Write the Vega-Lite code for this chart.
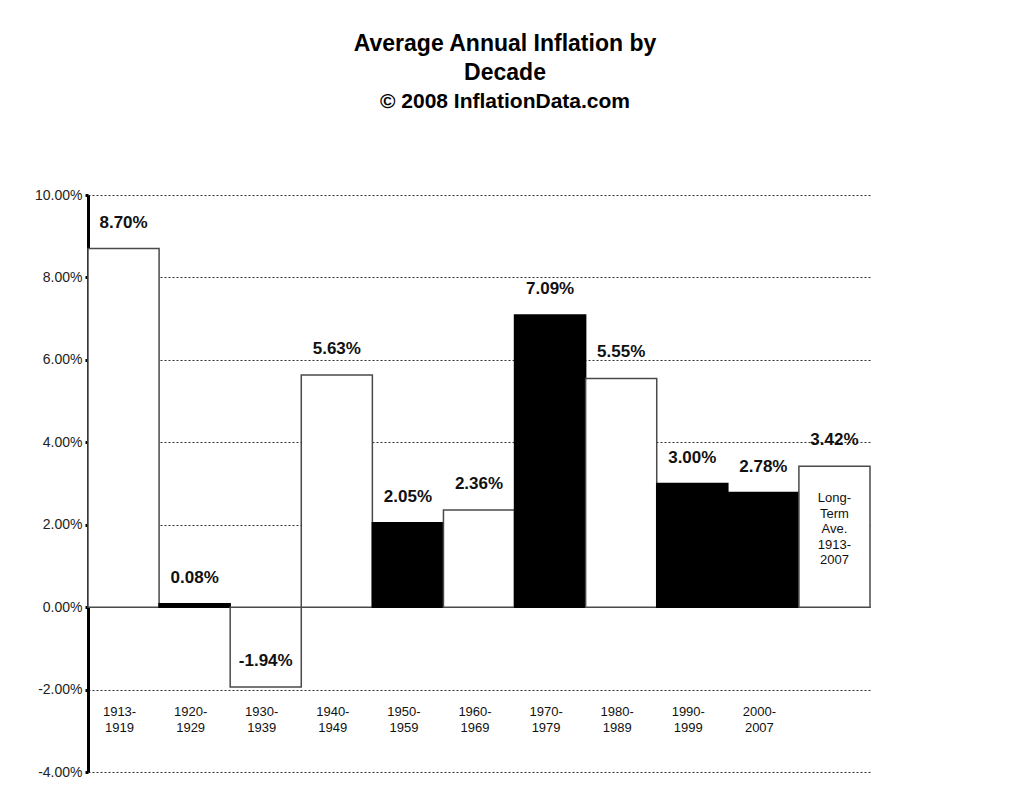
{
  "$schema": "https://vega.github.io/schema/vega-lite/v6.json",
  "width": 782,
  "height": 577,
  "autosize": {"type": "none"},
  "padding": {"left": 88, "top": 195, "right": 149, "bottom": 34},
  "background": "white",
  "title": {
    "text": ["Average Annual Inflation by", "Decade"],
    "subtitle": "© 2008 InflationData.com",
    "anchor": "middle",
    "frame": "group",
    "dx": 26,
    "offset": 76,
    "font": "Liberation Sans",
    "fontSize": 23,
    "fontWeight": "bold",
    "lineHeight": 29,
    "color": "#000000",
    "subtitleFont": "Liberation Sans",
    "subtitleFontSize": 21,
    "subtitleFontWeight": "bold",
    "subtitleColor": "#000000",
    "subtitlePadding": 6
  },
  "data": {
    "values": [
      {"decade": "1913-1919", "value": 0.0870},
      {"decade": "1920-1929", "value": 0.0008},
      {"decade": "1930-1939", "value": -0.0194},
      {"decade": "1940-1949", "value": 0.0563},
      {"decade": "1950-1959", "value": 0.0205},
      {"decade": "1960-1969", "value": 0.0236},
      {"decade": "1970-1979", "value": 0.0709},
      {"decade": "1980-1989", "value": 0.0555},
      {"decade": "1990-1999", "value": 0.0300},
      {"decade": "2000-2007", "value": 0.0278},
      {"decade": "Long-Term Ave. 1913-2007", "value": 0.0342, "note": "Long-\nTerm\nAve.\n1913-\n2007"}
    ]
  },
  "encoding": {
    "x": {
      "field": "decade",
      "type": "nominal",
      "sort": null,
      "scale": {"paddingInner": 0, "paddingOuter": 0},
      "axis": {
        "orient": "bottom",
        "offset": -67,
        "title": null,
        "domain": false,
        "ticks": false,
        "grid": false,
        "labelAngle": 0,
        "labelPadding": 0,
        "labelBaseline": "top",
        "labelAlign": "center",
        "labelOffset": -4,
        "labelFont": "Liberation Sans",
        "labelFontSize": 13,
        "labelLineHeight": 16,
        "labelColor": "#111111",
        "labelExpr": "indexof(datum.value, 'Long') >= 0 ? '' : [slice(datum.value, 0, 5), slice(datum.value, 5)]"
      }
    }
  },
  "layer": [
    {
      "mark": {"type": "bar", "strokeWidth": 1.5},
      "encoding": {
        "y": {
          "field": "value",
          "type": "quantitative",
          "scale": {"domain": [-0.04, 0.10], "nice": false, "zero": true},
          "axis": {
            "title": null,
            "values": [-0.04, -0.02, 0, 0.02, 0.04, 0.06, 0.08, 0.10],
            "format": ".2%",
            "domainColor": "#000000",
            "domainWidth": 3,
            "tickColor": "#000000",
            "tickSize": 3,
            "tickWidth": 3,
            "labelPadding": 3,
            "labelFont": "Liberation Sans",
            "labelFontSize": 14,
            "labelColor": "#222222",
            "grid": true,
            "gridColor": "#333333",
            "gridDash": [2, 2],
            "gridWidth": 1
          }
        },
        "fill": {
          "condition": {
            "test": "indexof(['1920-1929','1950-1959','1970-1979','1990-1999','2000-2007'], datum.decade) >= 0",
            "value": "#000000"
          },
          "value": "#ffffff"
        },
        "stroke": {
          "condition": {
            "test": "indexof(['1920-1929','1950-1959','1970-1979','1990-1999','2000-2007'], datum.decade) >= 0",
            "value": "#000000"
          },
          "value": "#4a4a4a"
        }
      }
    },
    {
      "mark": {"type": "rule", "color": "#000000", "strokeWidth": 2},
      "encoding": {"y": {"datum": 0, "type": "quantitative"}}
    },
    {
      "mark": {
        "type": "text",
        "font": "Liberation Sans",
        "fontSize": 17,
        "fontWeight": "bold",
        "color": "#111111",
        "baseline": "middle",
        "dy": -26
      },
      "encoding": {
        "y": {"field": "value", "type": "quantitative"},
        "text": {"field": "value", "type": "quantitative", "format": ".2%"}
      }
    },
    {
      "transform": [{"filter": "datum.note != null"}],
      "mark": {
        "type": "text",
        "font": "Liberation Sans",
        "fontSize": 13,
        "color": "#111111",
        "baseline": "top",
        "lineBreak": "\n",
        "lineHeight": 15.5,
        "dy": 26
      },
      "encoding": {
        "y": {"field": "value", "type": "quantitative"},
        "text": {"field": "note", "type": "nominal"}
      }
    }
  ],
  "config": {
    "view": {"stroke": null},
    "locale": {
      "number": {
        "decimal": ".",
        "thousands": ",",
        "grouping": [3],
        "currency": ["$", ""],
        "minus": "-"
      }
    }
  }
}
